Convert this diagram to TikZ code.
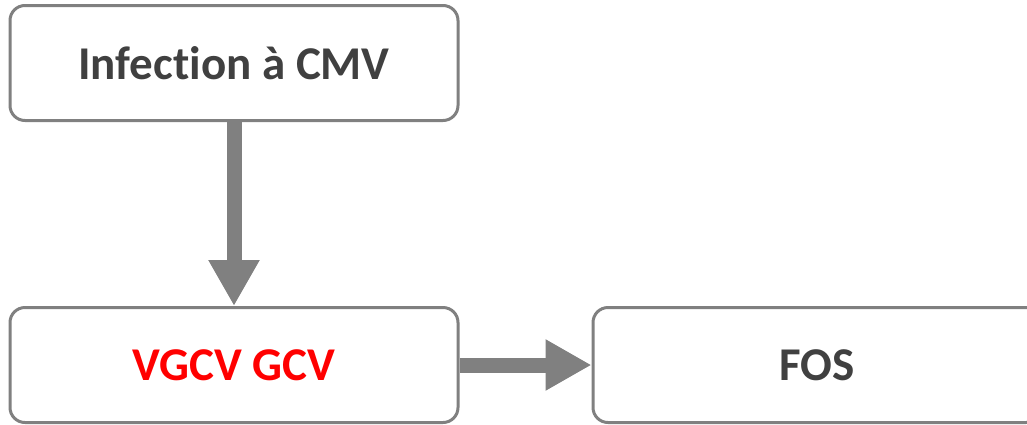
\documentclass[tikz,border=0pt]{standalone}
\usepackage{fontspec}
\setmainfont[Ligatures=NoCommon]{Carlito}
\usetikzlibrary{arrows.meta}
\definecolor{boxgray}{HTML}{808080}
\definecolor{txtgray}{HTML}{404040}
\definecolor{myred}{HTML}{FF0000}
\tikzset{
  box/.style={draw=boxgray, line width=3pt, rounded corners=15pt, fill=white,
    minimum width=448pt, minimum height=115pt, inner sep=0pt,
    font=\fontsize{47}{56}\selectfont\bfseries, text=txtgray},
  bigarrow/.style={draw=boxgray, line width=15pt,
    -{Triangle[length=46pt,width=48pt]}}
}
\begin{document}
\begin{tikzpicture}[x=1pt,y=-1pt]
\useasboundingbox (0,0) rectangle (1027,424);
\clip (0,0) rectangle (1027,424);
\node[box] (a) at (234,63) {Infection à CMV};
\node[box] (b) at (234,365) {\textcolor{myred}{VGCV GCV}};
\node[box] (c) at (817,365) {FOS};
\draw[bigarrow] (a.south) -- (b.north);
\draw[bigarrow] (b.east) -- (c.west);
\end{tikzpicture}
\end{document}
